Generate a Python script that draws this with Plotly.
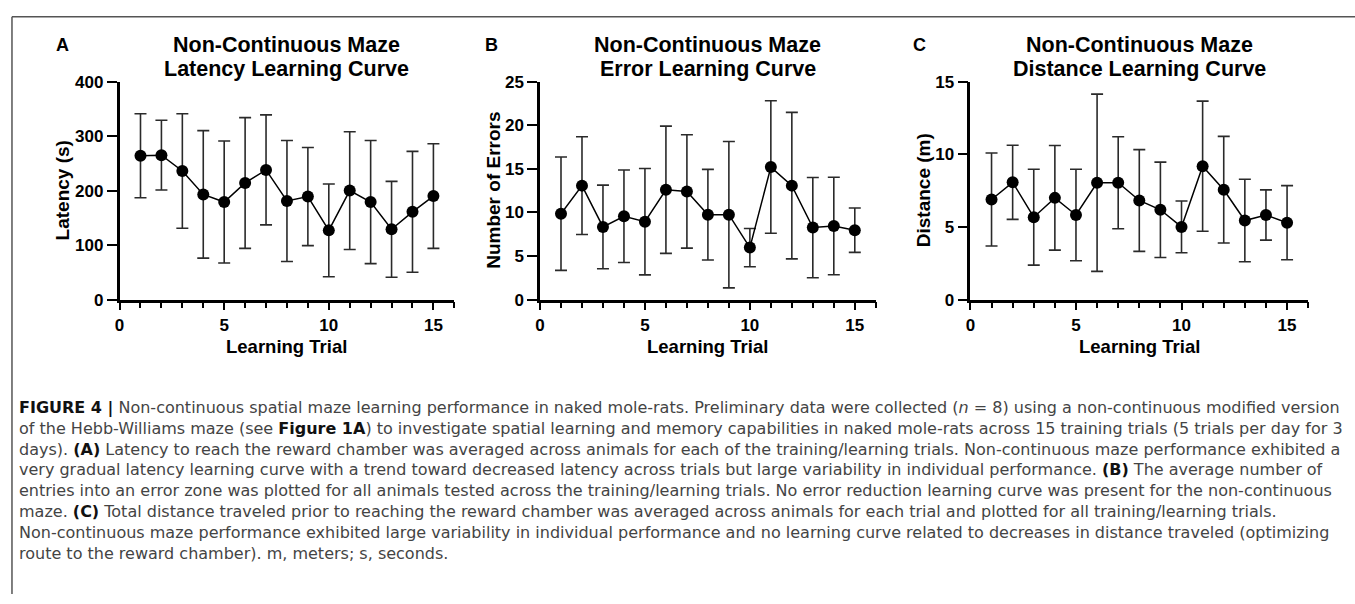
import plotly.graph_objects as go

W, H = 1355, 604

trials = list(range(1, 16))

latency_mean = [264, 265, 236, 193, 179, 214, 238, 181, 189, 127, 200, 179, 129, 161, 190]
latency_sd = [77, 64, 105, 117, 112, 120, 101, 111, 90, 85, 108, 113, 88, 111, 96]

errors_mean = [9.85, 13.07, 8.33, 9.56, 8.93, 12.6, 12.4, 9.74, 9.74, 5.96, 15.2, 13.07, 8.26, 8.44, 7.96]
errors_sd = [6.5, 5.6, 4.8, 5.3, 6.1, 7.3, 6.5, 5.2, 8.4, 2.2, 7.6, 8.4, 5.75, 5.6, 2.55]

distance_mean = [6.89, 8.07, 5.67, 7.0, 5.82, 8.04, 8.04, 6.82, 6.18, 5.0, 9.18, 7.56, 5.44, 5.82, 5.29]
distance_sd = [3.2, 2.55, 3.3, 3.6, 3.15, 6.1, 3.17, 3.5, 3.28, 1.78, 4.48, 3.67, 2.84, 1.73, 2.55]

panel_letters = ["A", "B", "C"]
titles = [("Non-Continuous Maze", "Latency Learning Curve"),
          ("Non-Continuous Maze", "Error Learning Curve"),
          ("Non-Continuous Maze", "Distance Learning Curve")]
y_titles = ["Latency (s)", "Number of Errors", "Distance (m)"]
x_title = "Learning Trial"
x_ticks = [0, 5, 10, 15]
y_ticks = [[0, 100, 200, 300, 400], [0, 5, 10, 15, 20, 25], [0, 5, 10, 15]]
y_max = [400, 25, 15]

caption_lines = [
    "<b>FIGURE 4 |</b> Non-continuous spatial maze learning performance in naked mole-rats. Preliminary data were collected (<i>n</i> = 8) using a non-continuous modified version",
    "of the Hebb-Williams maze (see <b>Figure 1A</b>) to investigate spatial learning and memory capabilities in naked mole-rats across 15 training trials (5 trials per day for 3",
    "days). <b>(A)</b> Latency to reach the reward chamber was averaged across animals for each of the training/learning trials. Non-continuous maze performance exhibited a",
    "very gradual latency learning curve with a trend toward decreased latency across trials but large variability in individual performance. <b>(B)</b> The average number of",
    "entries into an error zone was plotted for all animals tested across the training/learning trials. No error reduction learning curve was present for the non-continuous",
    "maze. <b>(C)</b> Total distance traveled prior to reaching the reward chamber was averaged across animals for each trial and plotted for all training/learning trials.",
    "Non-continuous maze performance exhibited large variability in individual performance and no learning curve related to decreases in distance traveled (optimizing",
    "route to the reward chamber). m, meters; s, seconds.",
]

# layout geometry (pixels)
x_px = [(115, 451), (537, 874), (969, 1308)]
y_bottom, y_top = 300, 75
letter_x = [58, 488, 918]
ytitle_x = [58, 490, 922]

def px(x):
    return x / W

def py(y):
    return 1 - y / H

means = [latency_mean, errors_mean, distance_mean]
sds = [latency_sd, errors_sd, distance_sd]

fig = go.Figure()
annotations = []
FONT = "Liberation Sans, Arial, sans-serif"
CAP_FONT = "DejaVu Sans, Liberation Sans, sans-serif"
CAP_SIZE = 16

for i in range(3):
    sfx = "" if i == 0 else str(i + 1)
    fig.add_trace(go.Scatter(
        x=trials, y=means[i], mode="lines+markers",
        marker=dict(size=12, color="black"),
        line=dict(color="black", width=1.5),
        error_y=dict(type="data", array=sds[i], color="#2a2a2a", thickness=1.6, width=6),
        xaxis="x" + sfx, yaxis="y" + sfx, cliponaxis=False, showlegend=False,
    ))
    fig.layout["xaxis" + sfx] = dict(
        domain=[px(x_px[i][0]), px(x_px[i][1])], range=[0, 16],
        anchor="y" + sfx, tickvals=x_ticks, ticks="outside", ticklen=8, tickwidth=2,
        tickcolor="black", showline=True, linewidth=2.5, linecolor="black",
        showgrid=False, zeroline=False,
        tickfont=dict(family=FONT, size=17, color="black", weight="bold"),
        minor=dict(dtick=1, tick0=0, ticks="outside", ticklen=6, tickwidth=2,
                   tickcolor="black", showgrid=False),
        fixedrange=True,
    )
    fig.layout["yaxis" + sfx] = dict(
        domain=[py(y_bottom), py(y_top)], range=[0, y_max[i]],
        anchor="x" + sfx, tickvals=y_ticks[i], ticks="outside", ticklen=10, tickwidth=2,
        tickcolor="black", showline=True, linewidth=2.5, linecolor="black",
        showgrid=False, zeroline=False,
        tickfont=dict(family=FONT, size=17, color="black", weight="bold"),
        fixedrange=True,
    )
    cx = (x_px[i][0] + x_px[i][1]) / 2
    annotations.append(dict(x=px(cx), y=py(37), xref="paper", yref="paper",
                            text="<b>" + titles[i][0] + "</b>", showarrow=False,
                            xanchor="center", yanchor="middle",
                            font=dict(family=FONT, size=21.5, color="black")))
    annotations.append(dict(x=px(cx), y=py(62), xref="paper", yref="paper",
                            text="<b>" + titles[i][1] + "</b>", showarrow=False,
                            xanchor="center", yanchor="middle",
                            font=dict(family=FONT, size=21.5, color="black")))
    annotations.append(dict(x=px(letter_x[i]), y=py(37), xref="paper", yref="paper",
                            text="<b>" + panel_letters[i] + "</b>", showarrow=False,
                            xanchor="center", yanchor="middle",
                            font=dict(family=FONT, size=18, color="black")))
    annotations.append(dict(x=px(cx), y=py(348), xref="paper", yref="paper",
                            text="<b>" + x_title + "</b>", showarrow=False,
                            xanchor="center", yanchor="middle",
                            font=dict(family=FONT, size=18.5, color="black")))
    annotations.append(dict(x=px(ytitle_x[i]), y=py((y_bottom + y_top) / 2),
                            xref="paper", yref="paper",
                            text="<b>" + y_titles[i] + "</b>", showarrow=False,
                            textangle=-90, xanchor="center", yanchor="middle",
                            font=dict(family=FONT, size=19, color="black")))

caption = "<br>".join(caption_lines)
caption = caption.replace("<b>", "<span style='color:#111'><b>").replace("</b>", "</b></span>")
n_lines = len(caption_lines)
first_center = 414
spacing = 1.3 * CAP_SIZE
annotations.append(dict(x=px(12), y=py(first_center + (n_lines - 1) / 2 * spacing),
                        xref="paper", yref="paper", text=caption, showarrow=False,
                        xanchor="left", yanchor="middle", align="left",
                        font=dict(family=CAP_FONT, size=CAP_SIZE, color="#444444")))

shapes = [
    dict(type="line", xref="paper", yref="paper", x0=px(7), x1=1, y0=py(8), y1=py(8),
         line=dict(color="#555555", width=1.5)),
    dict(type="line", xref="paper", yref="paper", x0=px(7), x1=px(7), y0=py(8), y1=0,
         line=dict(color="#555555", width=1.5)),
]

fig.update_layout(
    width=W, height=H, margin=dict(l=0, r=0, t=0, b=0),
    paper_bgcolor="white", plot_bgcolor="white",
    annotations=annotations, shapes=shapes, showlegend=False,
)

fig.write_html("out.html", config={"displayModeBar": False})
